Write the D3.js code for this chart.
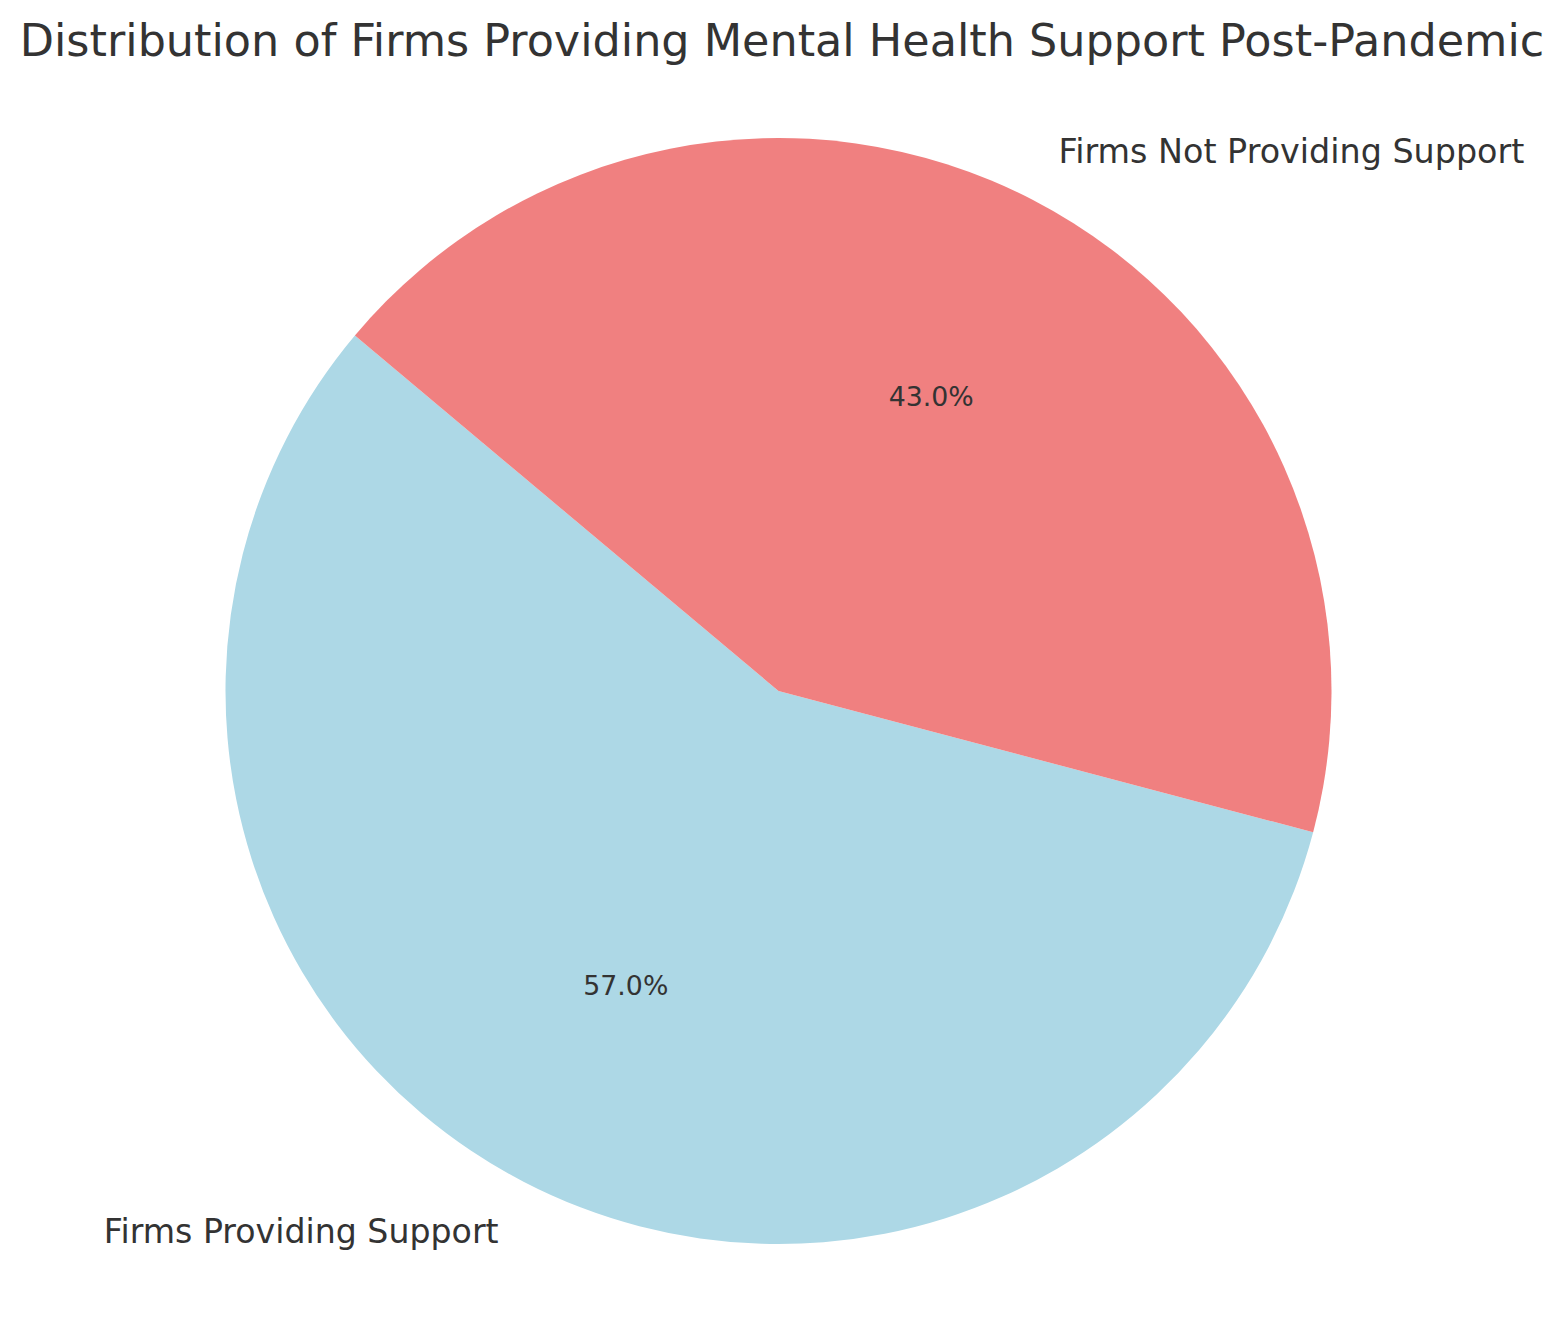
<!DOCTYPE html>
<html><head><meta charset="utf-8">
<script src="https://cdn.jsdelivr.net/npm/d3@7"></script>
<style>body{margin:0;background:#fff}svg{display:block}text{font-family:"DejaVu Sans",sans-serif;fill:#333333}</style>
</head><body><svg id="c" width="1565" height="1322"></svg>
<script>
const categories = ["Firms Providing Support", "Firms Not Providing Support"];
const values = [57, 43];
const colors = ["#ADD8E6", "#F08080"];
const title = "Distribution of Firms Providing Mental Health Support Post-Pandemic";

const W = 1565, H = 1322;
const cx = 778.5, cy = 691, R = 553;
const startDeg = 140; // matplotlib startangle, counterclockwise

const svg = d3.select("#c");
svg.append("rect").attr("width", W).attr("height", H).attr("fill", "#fff");

// d3 angles are clockwise from 12 o'clock; matplotlib is ccw from 3 o'clock
const toD3 = deg => (90 - deg) * Math.PI / 180;
const total = d3.sum(values);
const pie = d3.pie().sort(null).value(d => d)
  .startAngle(toD3(startDeg)).endAngle(toD3(startDeg) - 2 * Math.PI);
const arcs = pie(values);
const arc = d3.arc().innerRadius(0).outerRadius(R);

const g = svg.append("g").attr("transform", `translate(${cx},${cy})`);
g.selectAll("path").data(arcs).join("path")
  .attr("d", arc).attr("fill", (d, i) => colors[i]);

function fit(sel, target) {
  const w = sel.node().getComputedTextLength();
  sel.attr("font-size", 100 * target / w);
}

arcs.forEach((a, i) => {
  const mid = (a.startAngle + a.endAngle) / 2;
  const sx = Math.sin(mid), sy = -Math.cos(mid);
  const lt = g.append("text")
    .attr("x", 1.1 * R * sx).attr("y", 1.1 * R * sy)
    .attr("dy", "0.36em")
    .attr("text-anchor", sx < 0 ? "end" : "start")
    .attr("font-size", 100).text(categories[i]);
  fit(lt, i === 0 ? 395 : 466);
  const pt = g.append("text")
    .attr("x", 0.6 * R * sx).attr("y", 0.6 * R * sy)
    .attr("dy", "0.36em").attr("text-anchor", "middle")
    .attr("font-size", 100).text((values[i] / total * 100).toFixed(1) + "%");
  fit(pt, 85);
});

const t = svg.append("text").attr("x", 782).attr("y", 40).attr("dy", "0.36em")
  .attr("text-anchor", "middle").attr("font-size", 100).text(title);
fit(t, 1525);
</script></body></html>
